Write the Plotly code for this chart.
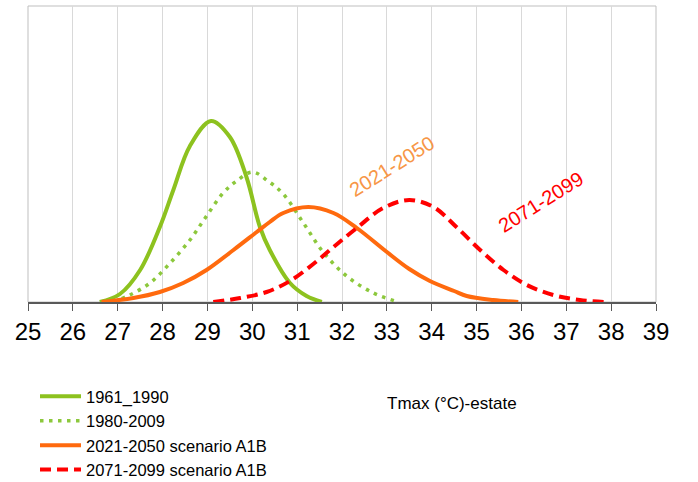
import plotly.graph_objects as go

# ---- data (relative frequency, arbitrary units) ----
x_1961 = [26.6, 27.05, 27.5, 27.94, 28.24, 28.61, 29.08, 29.5, 29.87, 30.17, 30.39, 30.84, 31.21, 31.55]
y_1961 = [0, 8, 32, 75, 112, 156, 181, 165, 125, 75, 52, 19, 6, 0]

x_1980 = [26.9, 27.27, 27.72, 28.17, 28.61, 28.95, 29.35, 29.65, 30.0, 30.35, 30.69, 31.14, 31.58, 32.1, 32.7, 33.25]
y_1980 = [0, 7, 19, 39, 62, 84, 109, 121, 130, 121, 108, 79, 50, 26, 9, 0]

x_2021 = [26.64, 27.35, 27.94, 28.46, 28.98, 29.58, 30.1, 30.39, 30.69, 31.25, 31.81, 32.33, 33.0, 33.5, 33.96, 34.5, 34.78, 35.37, 35.93]
y_2021 = [0, 4, 10, 19, 32, 52, 70, 80, 89, 95, 89, 74, 50, 33, 21, 11, 6, 2, 0]

x_2071 = [29.13, 29.73, 30.32, 30.84, 31.36, 31.81, 32.33, 32.92, 33.5, 34.04, 34.55, 35.08, 35.6, 36.12, 36.71, 37.3, 37.86]
y_2071 = [0, 4, 10, 21, 38, 55, 74, 94, 102, 95, 75, 52, 32, 17, 7, 2, 0]

series_names = ["1961_1990", "1980-2009", "2021-2050 scenario A1B", "2071-2099 scenario A1B"]
x_ticks = list(range(25, 40))
x_title = "Tmax (°C)-estate"
label_2021 = "2021-2050"
label_2071 = "2071-2099"

GREEN = "#8DC21F"
GREEN_DOT = "#8CC83C"
ORANGE = "#FF6A0E"
RED = "#FF0000"

fig = go.Figure()
fig.add_trace(go.Scatter(x=x_1961, y=y_1961, mode="lines", name=series_names[0],
                         line=dict(color=GREEN, width=4, shape="spline", smoothing=1.0)))
fig.add_trace(go.Scatter(x=x_1980, y=y_1980, mode="lines", name=series_names[1],
                         line=dict(color=GREEN_DOT, width=3.5, dash="3.5px,5.5px", shape="spline", smoothing=1.0)))
fig.add_trace(go.Scatter(x=x_2021, y=y_2021, mode="lines", name=series_names[2],
                         line=dict(color=ORANGE, width=4, shape="spline", smoothing=1.0)))
fig.add_trace(go.Scatter(x=x_2071, y=y_2071, mode="lines", name=series_names[3],
                         line=dict(color=RED, width=4, dash="11px,6px", shape="spline", smoothing=1.0)))

fig.add_annotation(x=33.12, y=136, xref="x", yref="y", text=label_2021, showarrow=False,
                   textangle=-32, font=dict(family="Liberation Sans, Arial", size=20, color="#F79646"))
fig.add_annotation(x=36.43, y=100, xref="x", yref="y", text=label_2071, showarrow=False,
                   textangle=-32, font=dict(family="Liberation Sans, Arial", size=20, color=RED))
fig.add_annotation(x=(385 - 28) / 628, y=(302 - 403) / 296, xref="paper", yref="paper", text=x_title,
                   showarrow=False, xanchor="left", yanchor="middle",
                   font=dict(family="Liberation Sans, Arial", size=17, color="#000"))

# frame (top/left/right light grey)
fig.add_shape(type="rect", xref="paper", yref="paper", x0=0, x1=1, y0=0, y1=1,
              line=dict(color="#bfbfbf", width=1), layer="below")

fig.update_layout(
    width=698, height=482,
    margin=dict(l=28, r=42, t=6, b=180, autoexpand=False),
    paper_bgcolor="white", plot_bgcolor="white",
    xaxis=dict(range=[25, 39], tickmode="array", tickvals=x_ticks, ticktext=[str(v) for v in x_ticks],
               tickangle=0,
               showgrid=True, gridcolor="#d9d9d9", gridwidth=1,
               showline=True, linecolor="#595959", linewidth=1.5,
               ticks="outside", ticklen=7, tickcolor="#595959", tickwidth=1,
               tickfont=dict(family="Liberation Sans, Arial", size=24, color="#000"),
               zeroline=False, fixedrange=True),
    yaxis=dict(range=[0, 296], showticklabels=False, showgrid=False, zeroline=False,
               showline=False, fixedrange=True),
    showlegend=True,
    legend=dict(xref="container", yref="container", x=35/698, y=1 - 379/482,
                xanchor="left", yanchor="top", orientation="v",
                itemwidth=41, tracegroupgap=0, bgcolor="rgba(0,0,0,0)",
                font=dict(family="Liberation Sans, Arial", size=16.5, color="#000")),
)

fig.write_html("out.html", config={"displayModeBar": False},
               post_script="document.body.style.margin='0px';")
